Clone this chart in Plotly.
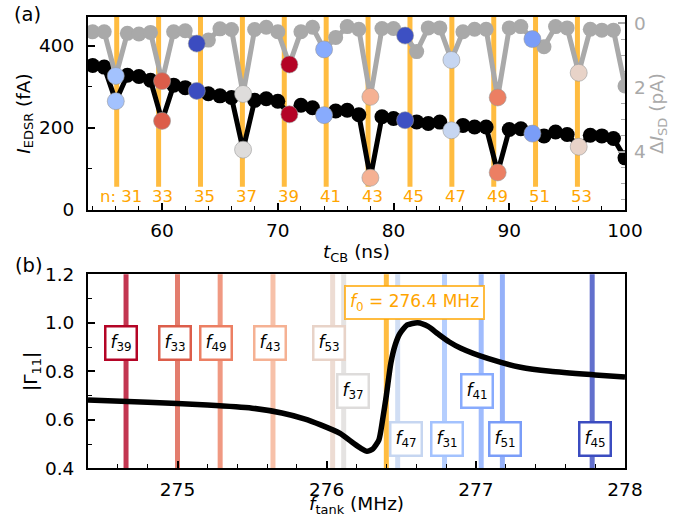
import plotly.graph_objects as go

# ---------------- Panel (a) data ----------------
t_ns = list(range(54, 101))
i_edsr = [352, 348, 265, 328, 325, 316, 217, 304, 298, 290, 283, 278, 274, 147,
          267, 271, 265, 233, 255, 249, 231, 241, 243, 232, 78.5, 227, 223, 218.6,
          214.5, 210.5, 214, 194, 206, 202, 202, 91.5, 196, 198, 186, 180.5, 190,
          184, 154, 182, 180.5, 174, 127]
delta_isd = [0.26, 0.26, 1.64, 0.31, 0.33, 0.28, 1.80, 0.26, 0.23, 0.63, 0.52,
             0.17, 0.19, 2.2, 0.19, 0.12, 0.26, 1.28, 0.26, 0.12, 0.81, 0.44,
             0.10, 0.18, 2.29, 0.16, 0.16, 0.38, 0.88, 0.14, 0.14, 1.14, 0.26,
             0.18, 0.18, 2.31, 0.14, 0.10, 0.49, 0.73, 0.10, 0.14, 1.54, 0.18,
             0.21, 0.21, 1.95]

n_vals = [31, 33, 35, 37, 39, 41, 43, 45, 47, 49, 51, 53]
n_line_t = [56.08, 59.70, 63.32, 66.94, 70.56, 74.18, 77.80, 81.42, 85.04, 88.66, 92.27, 95.89]
n_marker_t = [56, 60, 63, 67, 71, 74, 78, 81, 85, 89, 92, 96]
n_colors = ["#a3c2fe", "#dc5d4a", "#3b4cc0", "#dedcdb", "#b40426", "#88abfd",
            "#f5b193", "#3d50c3", "#c6d6f1", "#ec7f63", "#7a9df8", "#e8d3c8"]

# ---------------- Panel (b) data ----------------
f_tank = [274.40, 274.80, 275.20, 275.50, 275.70, 275.85, 275.96, 276.09, 276.18,
          276.23, 276.27, 276.31, 276.35, 276.375, 276.40, 276.43, 276.46, 276.49,
          276.54, 276.61, 276.68, 276.745, 276.82, 276.90, 277.08, 277.30, 277.50,
          277.80, 278.00]
gamma11 = [0.682, 0.672, 0.661, 0.648, 0.628, 0.604, 0.579, 0.544, 0.503,
           0.482, 0.470, 0.480, 0.517, 0.600, 0.700, 0.833, 0.910, 0.955,
           0.991, 1.000, 0.985, 0.955, 0.922, 0.895, 0.853, 0.817, 0.800,
           0.785, 0.776]

res_labels = [39, 33, 49, 43, 53, 37, 47, 31, 41, 51, 45]
res_freq = [274.655, 275.0, 275.286, 275.64, 276.04, 276.114, 276.476, 276.79,
            277.036, 277.178, 277.78]
res_colors = ["#b40426", "#dc5d4a", "#ec7f63", "#f5b193", "#e8d3c8", "#dedcdb",
              "#c6d6f1", "#a3c2fe", "#88abfd", "#7a9df8", "#3b4cc0"]
res_label_x = [274.622, 274.98, 275.259, 275.619, 276.016, 276.175, 276.532,
               276.808, 277.01, 277.193, 277.798]
res_label_y = [0.915, 0.915, 0.915, 0.915, 0.915, 0.72, 0.52, 0.52, 0.72, 0.52, 0.52]
f0 = 276.4

ORANGE = "#FFA500"
GRAY = "#a9a9a9"
FONT = "DejaVu Sans"
FS = 18.5

def hex_rgba(h, a):
    h = h.lstrip("#")
    r, g, b = int(h[0:2], 16), int(h[2:4], 16), int(h[4:6], 16)
    return f"rgba({r},{g},{b},{a})"

fig = go.Figure()

# gray series (right axis)
fig.add_trace(go.Scatter(x=t_ns, y=delta_isd, mode="lines+markers", yaxis="y3", xaxis="x",
                         line=dict(color=GRAY, width=5),
                         marker=dict(color=GRAY, size=15), showlegend=False))
# black series (left axis)
fig.add_trace(go.Scatter(x=t_ns, y=i_edsr, mode="lines+markers", yaxis="y", xaxis="x",
                         line=dict(color="black", width=5),
                         marker=dict(color="black", size=15), showlegend=False))
# colored markers
idx = [t_ns.index(t) for t in n_marker_t]
fig.add_trace(go.Scatter(x=n_marker_t, y=[delta_isd[i] for i in idx], mode="markers",
                         yaxis="y3", xaxis="x",
                         marker=dict(color=n_colors, size=17, line=dict(color="#999999", width=0.6)),
                         showlegend=False))
fig.add_trace(go.Scatter(x=n_marker_t, y=[i_edsr[i] for i in idx], mode="markers",
                         yaxis="y", xaxis="x",
                         marker=dict(color=n_colors, size=17, line=dict(color="#999999", width=0.6)),
                         showlegend=False))

# reflection curve
fig.add_trace(go.Scatter(x=f_tank, y=gamma11, mode="lines", xaxis="x2", yaxis="y2",
                         line=dict(color="black", width=5.5, shape="spline", smoothing=0.6),
                         showlegend=False))

shapes = []
annotations = []
for n, t in zip(n_vals, n_line_t):
    shapes.append(dict(type="line", xref="x", yref="y domain", x0=t, x1=t, y0=0.12, y1=1,
                       line=dict(color=hex_rgba(ORANGE, 0.75), width=5), layer="below"))
    annotations.append(dict(x=t, y=32, xref="x", yref="y", xshift=4,
                            text=("n: %d" % n) if n == n_vals[0] else str(n),
                            showarrow=False, font=dict(color=ORANGE, size=16.5, family=FONT)))

for lab, f, c, lx, ly in zip(res_labels, res_freq, res_colors, res_label_x, res_label_y):
    shapes.append(dict(type="line", xref="x2", yref="y2 domain", x0=f, x1=f, y0=0, y1=1,
                       line=dict(color=hex_rgba(c, 0.8), width=5), layer="below"))
    annotations.append(dict(x=lx, y=ly, xref="x2", yref="y2",
                            text="<i>f</i><sub>%d</sub>" % lab, showarrow=False,
                            font=dict(color="black", size=17, family=FONT),
                            bgcolor="white", bordercolor=c, borderwidth=2.5, borderpad=4))
shapes.append(dict(type="line", xref="x2", yref="y2 domain", x0=f0, x1=f0, y0=0, y1=1,
                   line=dict(color=hex_rgba(ORANGE, 0.75), width=5), layer="below"))
annotations.append(dict(x=276.588, y=1.085, xref="x2", yref="y2",
                        text="<i>f</i><sub>0</sub> = 276.4 MHz", showarrow=False,
                        font=dict(color=ORANGE, size=17, family=FONT),
                        bgcolor="white", bordercolor=hex_rgba(ORANGE, 0.75), borderwidth=2, borderpad=4))

annotations.append(dict(x=28 / 697, y=1 - 15 / 517, xref="paper", yref="paper", text="(a)",
                        xanchor="center", yanchor="middle",
                        showarrow=False, font=dict(size=19.5, family=FONT, color="black")))
annotations.append(dict(x=29 / 697, y=1 - 265 / 517, xref="paper", yref="paper", text="(b)",
                        xanchor="center", yanchor="middle",
                        showarrow=False, font=dict(size=19.5, family=FONT, color="black")))

xdom = [88 / 697, 625 / 697]
tickfont = dict(size=FS, family=FONT, color="black")
common = dict(showline=True, linecolor="black", linewidth=2, ticks="inside", ticklen=7,
              tickwidth=1.5, tickcolor="black", showgrid=False, zeroline=False, tickfont=tickfont,
              automargin=False)

fig.update_layout(
    width=697, height=517, margin=dict(l=0, r=0, t=0, b=0, autoexpand=False),
    plot_bgcolor="white", paper_bgcolor="white",
    font=dict(family=FONT, size=FS, color="black"),
    xaxis=dict(domain=xdom, range=[53.6, 100], anchor="y", mirror=True,
               tickvals=[60, 70, 80, 90, 100], ticklabelstandoff=3,
               minor=dict(dtick=2, ticklen=4, ticks="inside", tickcolor="black", tickwidth=1.2),
               title=dict(text="<i>t</i><sub>CB</sub> (ns)", font=dict(size=FS), standoff=0),
               **common),
    yaxis=dict(domain=[1 - 210 / 517, 1 - 17 / 517], range=[0, 470], anchor="x", mirror=True,
               tickvals=[0, 200, 400], ticklabelstandoff=8,
               minor=dict(dtick=100, ticklen=4, ticks="inside", tickcolor="black", tickwidth=1.2),
               title=dict(text="<i>I</i><sub>EDSR</sub> (fA)", font=dict(size=FS), standoff=4),
               **common),
    yaxis3=dict(overlaying="y", side="right", anchor="x", range=[5.82, -0.2],
                showline=False, ticks="inside", ticklen=7, tickwidth=1.5, tickcolor=GRAY,
                tickvals=[0, 2, 4], showgrid=False, zeroline=False, ticklabelstandoff=8,
                automargin=False,
                tickfont=dict(size=FS, family=FONT, color=GRAY),
                minor=dict(dtick=0.5, ticklen=4, ticks="inside", tickcolor=GRAY, tickwidth=1.2),
                title=dict(text="Δ<i>I</i><sub>SD</sub> (pA)", font=dict(size=FS, color=GRAY), standoff=0)),
    xaxis2=dict(domain=xdom, range=[274.4, 278], anchor="y2", mirror=True,
                tickvals=[275, 276, 277, 278], ticklabelstandoff=3,
                minor=dict(dtick=0.2, ticklen=4, ticks="inside", tickcolor="black", tickwidth=1.2),
                title=dict(text="<i>f</i><sub>tank</sub> (MHz)", font=dict(size=FS), standoff=1),
                **common),
    yaxis2=dict(domain=[1 - 468.3 / 517, 1 - 274.3 / 517], range=[0.4, 1.2], anchor="x2", mirror=True,
                tickvals=[0.4, 0.6, 0.8, 1.0, 1.2], ticktext=["0.4", "0.6", "0.8", "1.0", "1.2"],
                ticklabelstandoff=8,
                minor=dict(dtick=0.1, ticklen=4, ticks="inside", tickcolor="black", tickwidth=1.2),
                title=dict(text="|Γ<sub>11</sub>|", font=dict(size=FS), standoff=2),
                **common),
    shapes=shapes, annotations=annotations,
)

fig.write_html("out.html", config={"displayModeBar": False},
               post_script="document.body.style.margin='0px';document.body.style.overflow='hidden';")
